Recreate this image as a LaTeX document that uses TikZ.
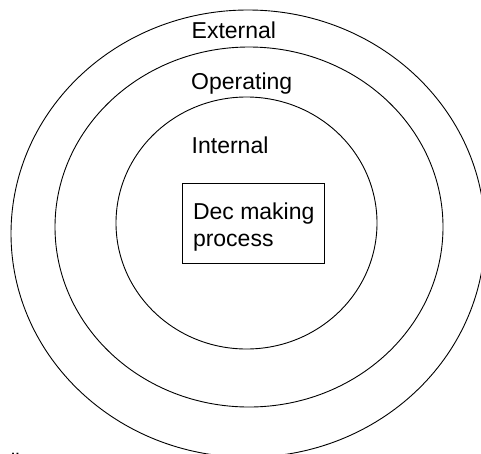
\documentclass[tikz,border=0pt]{standalone}
\usepackage{fontspec}
\setmainfont{Liberation Sans}
\usetikzlibrary{shapes.geometric}
\begin{document}
\begin{tikzpicture}[x=1pt,y=-1pt,
  ring/.style={draw=black, line width=0.9pt, ellipse, inner sep=0pt},
  lbl/.style={anchor=base west, inner sep=0pt, font=\fontsize{23}{26.5}\selectfont},
  procbox/.style={draw=black, line width=0.9pt, rectangle, inner sep=0pt}]
  \useasboundingbox (0,0) rectangle (481,453);
  % nested environment rings
  \node[ring, minimum width=474pt, minimum height=447.2pt] (outer) at (248,233.6) {};
  \node[ring, minimum width=388pt, minimum height=360pt] (middle) at (249,227) {};
  \node[ring, minimum width=261pt, minimum height=252pt] (inner) at (246.5,223) {};
  % ring labels
  \node[lbl] (ext) at (191.5,38.5) {External};
  \node[lbl] (op) at (191,89) {Operating};
  \node[lbl] (int) at (191.5,153) {Internal};
  % central process box (base anchor of a two-line node sits on its last line)
  \node[procbox, minimum width=142pt, minimum height=79.7pt] (box) at (253.3,223.2) {};
  \node[lbl, align=left] (dec) at (192.8,246) {Dec making\\process};
  % stray glyph at the lower left edge
  \node[lbl] (stray) at (7.5,472) {Ä};
\end{tikzpicture}
\end{document}
